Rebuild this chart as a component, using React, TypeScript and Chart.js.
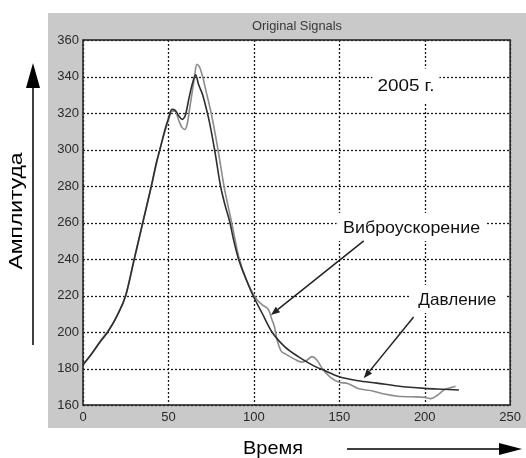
import React, { useEffect, useRef } from "react";
import { Chart, registerables } from "chart.js";

Chart.register(...registerables);

// Давление (dark curve)
const pressureTime = [0, 5, 10, 14.5, 20, 25, 30, 35, 40, 43, 45, 48, 50, 52, 54, 56, 58, 60, 62, 64, 66, 67.5, 70, 72, 74, 77, 80.5, 83, 86, 88, 91, 95, 99.5, 105, 110.6, 118, 126, 134, 141, 150, 161, 172, 184, 200, 211, 220];
const pressureValues = [182, 188, 194.5, 200, 209, 220, 240, 260, 280, 293, 300, 311, 317, 322, 321.5, 318.5, 316.5, 319, 328, 336, 341, 336, 330, 323, 315, 300, 280, 270, 260, 251, 240, 230, 220, 210, 200, 192, 186.5, 182, 179, 175.5, 173.3, 172, 170.4, 169.1, 168.6, 168.2];

// Виброускорение (light curve)
const vibroTime = [0, 5, 10, 15, 20, 25, 30, 35, 40, 45, 48, 50, 52, 54, 56, 58, 59.5, 61, 63, 65, 66.5, 68, 70, 72, 75, 79, 82.5, 87, 91.5, 100, 104.8, 108.7, 110.5, 112, 113.5, 116, 118.4, 124, 128, 131, 134, 137, 140, 145, 150, 155, 161, 169, 176.5, 184, 192, 200, 203.7, 207.6, 211.4, 215, 218];
const vibroValues = [182, 188, 195, 201, 209, 220, 240, 260, 280, 300, 310, 316, 321, 321, 316, 312, 311, 314, 326, 338, 346.7, 345.5, 340, 332, 320, 300, 280, 260, 240, 220, 215, 212, 207, 203, 196, 189.5, 188, 185, 183.5, 184.5, 186.5, 184.5, 180, 175, 172.5, 171.8, 169, 167.8, 166, 164.8, 164.5, 164.2, 163.5, 165.5, 168.3, 169.5, 170.2];

const xTicks = [0, 50, 100, 150, 200, 250];
const yTicks = [160, 180, 200, 220, 240, 260, 280, 300, 320, 340, 360];

const chartTitle = "Original Signals";
const yAxisLabel = "Амплитуда";
const xAxisLabel = "Время";
const yearLabel = "2005 г.";
const vibroLabel = "Виброускорение";
const pressureLabel = "Давление";

const FONT = "'Liberation Sans', Arial, sans-serif";

function arrow(ctx: CanvasRenderingContext2D, x1: number, y1: number, x2: number, y2: number, len: number, half: number, lw: number) {
  const ang = Math.atan2(y2 - y1, x2 - x1);
  const bx = x2 - Math.cos(ang) * len;
  const by = y2 - Math.sin(ang) * len;
  ctx.beginPath();
  ctx.moveTo(x1, y1);
  ctx.lineTo(bx, by);
  ctx.lineWidth = lw;
  ctx.stroke();
  ctx.beginPath();
  ctx.moveTo(x2, y2);
  ctx.lineTo(bx + Math.sin(ang) * half, by - Math.cos(ang) * half);
  ctx.lineTo(bx - Math.sin(ang) * half, by + Math.cos(ang) * half);
  ctx.closePath();
  ctx.fill();
}

// draws centred text stretched horizontally to a target width
function fitText(ctx: CanvasRenderingContext2D, text: string, x: number, y: number, size: number, width: number, rotate = false) {
  ctx.save();
  ctx.font = `${size}px ${FONT}`;
  ctx.textAlign = "center";
  ctx.textBaseline = "middle";
  const w = ctx.measureText(text).width;
  ctx.translate(x, y);
  if (rotate) ctx.rotate(-Math.PI / 2);
  ctx.scale(width / w, 1);
  ctx.fillText(text, 0, 0);
  ctx.restore();
}

const decor = {
  id: "decor",
  beforeDraw(chart: any) {
    const { ctx, chartArea: a } = chart;
    ctx.save();
    ctx.fillStyle = "#ffffff";
    ctx.fillRect(0, 0, chart.width, chart.height);
    ctx.fillStyle = "#c9c9c9";
    ctx.fillRect(48, 13, chart.width - 48, 428 - 13);
    ctx.fillStyle = "#ffffff";
    ctx.fillRect(a.left, a.top, a.right - a.left, a.bottom - a.top);
    ctx.restore();
  },
  beforeDatasetsDraw(chart: any) {
    const { ctx, chartArea: a, scales } = chart;
    ctx.save();
    ctx.strokeStyle = "#1a1a1a";
    ctx.lineWidth = 1.3;
    ctx.setLineDash([2, 2]);
    for (const v of xTicks) {
      const px = Math.round(scales.x.getPixelForValue(v)) + 0.5;
      ctx.beginPath();
      ctx.moveTo(px, a.top);
      ctx.lineTo(px, a.bottom);
      ctx.stroke();
    }
    for (const v of yTicks) {
      const py = Math.round(scales.y.getPixelForValue(v)) + 0.5;
      ctx.beginPath();
      ctx.moveTo(a.left, py);
      ctx.lineTo(a.right, py);
      ctx.stroke();
    }
    ctx.restore();
  },
  afterDraw(chart: any) {
    const { ctx, chartArea: a, scales } = chart;
    const xs = scales.x;
    const ys = scales.y;
    ctx.save();
    // box
    ctx.strokeStyle = "#2a2a2a";
    ctx.lineWidth = 1.6;
    ctx.strokeRect(a.left, a.top, a.right - a.left, a.bottom - a.top);

    // title
    ctx.fillStyle = "#3a3a3a";
    fitText(ctx, chartTitle, 297, 26, 13, 90);

    // annotations with white boxes
    const notes: [string, number, number, number, number, number, number][] = [
      [yearLabel, 189, 335, 67, 34, 16, 57],
      [vibroLabel, 192.3, 257.5, 150, 28, 16.5, 137],
      [pressureLabel, 219.1, 218.1, 96, 28, 16.5, 78],
    ];
    for (const [t, dx, dy, w, h, size, tw] of notes) {
      const px = xs.getPixelForValue(dx);
      const py = ys.getPixelForValue(dy);
      ctx.fillStyle = "#ffffff";
      ctx.fillRect(px - w / 2, py - h / 2, w, h);
      ctx.fillStyle = "#111";
      fitText(ctx, t, px, py + 1, size, tw);
    }

    // arrows inside plot
    ctx.strokeStyle = "#222";
    ctx.fillStyle = "#222";
    arrow(ctx, xs.getPixelForValue(164.3), ys.getPixelForValue(249.9), xs.getPixelForValue(110), ys.getPixelForValue(209.3), 9, 3.5, 1.5);
    arrow(ctx, xs.getPixelForValue(193.5), ys.getPixelForValue(208.2), xs.getPixelForValue(164.3), ys.getPixelForValue(174.6), 9, 3.5, 1.5);

    // outer axis labels
    ctx.fillStyle = "#000";
    ctx.strokeStyle = "#000";
    fitText(ctx, xAxisLabel, 273, 449, 19, 60);
    arrow(ctx, 347, 449, 522, 449, 23, 6, 1.5);

    fitText(ctx, yAxisLabel, 17, 211, 19, 117, true);
    arrow(ctx, 33, 345, 33, 63, 25, 7, 1.5);

    ctx.restore();
  },
};

export default function App() {
  const ref = useRef<HTMLCanvasElement | null>(null);
  useEffect(() => {
    if (!ref.current) return;
    const chart = new Chart(ref.current, {
      type: "line",
      data: {
        datasets: [
          {
            label: pressureLabel,
            data: pressureTime.map((t, i) => ({ x: t, y: pressureValues[i] })),
            borderColor: "#2e2e2e",
            borderWidth: 1.6,
            pointRadius: 0,
            cubicInterpolationMode: "monotone",
            order: 0,
          },
          {
            label: vibroLabel,
            data: vibroTime.map((t, i) => ({ x: t, y: vibroValues[i] })),
            borderColor: "#8c8c8c",
            borderWidth: 1.6,
            pointRadius: 0,
            cubicInterpolationMode: "monotone",
            order: 1,
          },
        ],
      },
      options: {
        animation: false,
        responsive: false,
        devicePixelRatio: 1,
        layout: { padding: { top: 40, right: 14, left: 0, bottom: 0 } },
        plugins: { legend: { display: false }, tooltip: { enabled: false }, title: { display: false } },
        scales: {
          x: {
            type: "linear",
            min: 0,
            max: 250,
            afterBuildTicks: (s: any) => {
              s.ticks = xTicks.map((v) => ({ value: v }));
            },
            afterFit: (s: any) => {
              s.height = 53;
            },
            ticks: { color: "#2a2a2a", font: { family: FONT, size: 13 }, padding: 5, maxRotation: 0 },
            grid: { display: false, drawTicks: false },
            border: { display: false },
          },
          y: {
            type: "linear",
            min: 160,
            max: 360,
            afterBuildTicks: (s: any) => {
              s.ticks = yTicks.map((v) => ({ value: v }));
            },
            afterFit: (s: any) => {
              s.width = 83;
            },
            ticks: { color: "#2a2a2a", font: { family: FONT, size: 13 }, padding: 4 },
            grid: { display: false, drawTicks: false },
            border: { display: false },
          },
        },
      },
      plugins: [decor],
    });
    return () => chart.destroy();
  }, []);
  return (
    <div style={{ position: "absolute", left: 0, top: 0, width: 526, height: 458 }}>
      <canvas ref={ref} width={526} height={458} style={{ display: "block" }} />
    </div>
  );
}
